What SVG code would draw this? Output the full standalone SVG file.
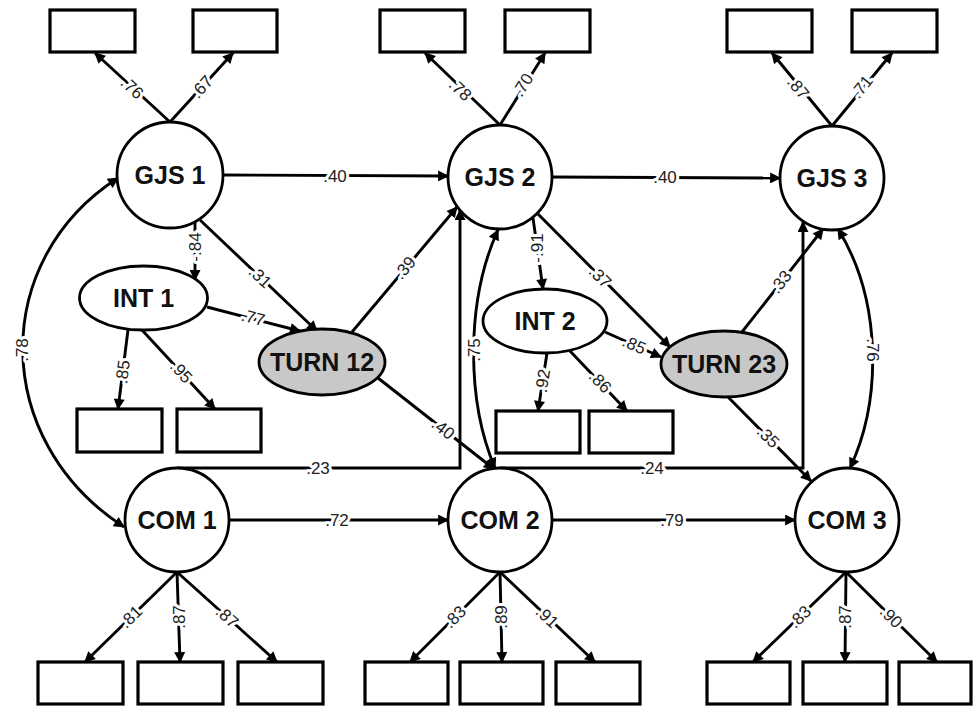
<svg xmlns="http://www.w3.org/2000/svg" width="974" height="706" viewBox="0 0 974 706">
<style>
.box{fill:#fff;stroke:#000;stroke-width:3.2}
.lat{fill:#fff;stroke:#000;stroke-width:2.8}
.turn{fill:#c8c8c8;stroke:#000;stroke-width:2.8}
.nl{font-family:"Liberation Sans",Arial,sans-serif;font-weight:bold;font-size:25px;fill:#111;text-anchor:middle;dominant-baseline:central}
.e{fill:none;stroke:#000;stroke-width:2.9;marker-end:url(#ah)}
.b{fill:none;stroke:#000;stroke-width:2.9;marker-end:url(#ah);marker-start:url(#ah)}
.lb{font-family:"Liberation Sans",Arial,sans-serif;font-size:17px;fill:#222;text-anchor:middle;dominant-baseline:central;stroke:#fff;stroke-width:6;stroke-linejoin:round;paint-order:stroke}
</style>
<defs>
<marker id="ah" viewBox="0 0 10 10" refX="9" refY="5" markerWidth="13" markerHeight="11" markerUnits="userSpaceOnUse" orient="auto-start-reverse">
<path d="M0,0 L10,5 L0,10 z" fill="#000"/>
</marker>
</defs>
<g id="connectors">
<path class="e" d="M170,122 L95,53"/>
<path class="e" d="M170,122 L233,53"/>
<path class="e" d="M500,125 L425,53"/>
<path class="e" d="M500,125 L545,53"/>
<path class="e" d="M832,126 L772,53"/>
<path class="e" d="M832,126 L892,53"/>
<path class="e" d="M223,175 L448,176"/>
<path class="e" d="M552,177 L780,178"/>
<path class="e" d="M229,520 L448,520"/>
<path class="e" d="M552,520 L795,520"/>
<path class="e" d="M177,572 L85,662"/>
<path class="e" d="M177,572 L180,662"/>
<path class="e" d="M177,572 L277,662"/>
<path class="e" d="M500,572 L410,662"/>
<path class="e" d="M500,572 L502,662"/>
<path class="e" d="M500,572 L595,662"/>
<path class="e" d="M846,572 L753,662"/>
<path class="e" d="M846,572 L845,662"/>
<path class="e" d="M846,572 L937,662"/>
<path class="e" d="M195,221 L195,280"/>
<path class="e" d="M128,330 L118,409"/>
<path class="e" d="M142,330 L215,409"/>
<path class="e" d="M200,220 L317,331"/>
<path class="e" d="M207,307 L300,331"/>
<path class="e" d="M352,332 L457,207"/>
<path class="e" d="M378,378 L494,469"/>
<path class="e" d="M533,218 L543,289"/>
<path class="e" d="M547,353 L538,411"/>
<path class="e" d="M570,351 L627,411"/>
<path class="e" d="M538,214 L670,347"/>
<path class="e" d="M605,332 L661,357"/>
<path class="e" d="M742,332 L823,229"/>
<path class="e" d="M728,397 L811,481"/>
<path class="e" d="M177,468 L460,468 L460,210"/>
<path class="e" d="M500,468 L803,468 L803,222"/>
<path class="b" d="M118,178 C-10,260 -10,440 124,527"/>
<path class="b" d="M498,230 C466,300 466,400 495,468"/>
<path class="b" d="M838,229 C882,300 882,400 850,468"/>
<text class="lb" transform="translate(132,88) rotate(43)">.76</text>
<text class="lb" transform="translate(202,87) rotate(-48)">.67</text>
<text class="lb" transform="translate(460,90) rotate(44)">.78</text>
<text class="lb" transform="translate(523,85) rotate(-58)">.70</text>
<text class="lb" transform="translate(798,88) rotate(51)">.87</text>
<text class="lb" transform="translate(862,87) rotate(-51)">.71</text>
<text class="lb" x="335" y="176">.40</text>
<text class="lb" x="665" y="177">.40</text>
<text class="lb" x="337" y="520">.72</text>
<text class="lb" x="672" y="520">.79</text>
<text class="lb" x="318" y="468">.23</text>
<text class="lb" x="652" y="468">.24</text>
<text class="lb" transform="translate(131,617) rotate(-44)">.81</text>
<text class="lb" transform="translate(179,617) rotate(-90)">.87</text>
<text class="lb" transform="translate(227,617) rotate(42)">.87</text>
<text class="lb" transform="translate(455,617) rotate(-45)">.83</text>
<text class="lb" transform="translate(501,617) rotate(-90)">.89</text>
<text class="lb" transform="translate(547,617) rotate(43)">.91</text>
<text class="lb" transform="translate(800,617) rotate(-44)">.83</text>
<text class="lb" transform="translate(845,617) rotate(-90)">.87</text>
<text class="lb" transform="translate(891,617) rotate(45)">.90</text>
<text class="lb" transform="translate(195,247) rotate(-90)">-.84</text>
<text class="lb" transform="translate(123,372) rotate(-83)">.85</text>
<text class="lb" transform="translate(181,372) rotate(47)">.95</text>
<text class="lb" transform="translate(260,277) rotate(43)">.31</text>
<text class="lb" transform="translate(253,318) rotate(14)">.77</text>
<text class="lb" transform="translate(405,268) rotate(-50)">.39</text>
<text class="lb" transform="translate(443,429) rotate(38)">.40</text>
<text class="lb" transform="translate(537,248) rotate(-90)">-.91</text>
<text class="lb" transform="translate(543,381) rotate(-81)">.92</text>
<text class="lb" transform="translate(600,382) rotate(46)">.86</text>
<text class="lb" transform="translate(600,277) rotate(45)">.37</text>
<text class="lb" transform="translate(634,345) rotate(24)">.85</text>
<text class="lb" transform="translate(781,282) rotate(-52)">.33</text>
<text class="lb" transform="translate(768,437) rotate(45)">.35</text>
<text class="lb" transform="translate(22,350) rotate(-90)">.78</text>
<text class="lb" transform="translate(474,350) rotate(-90)">.75</text>
<text class="lb" transform="translate(872,350) rotate(90)">.76</text>
</g>
<g id="ind-gjs1-a"><rect class="box" x="50" y="10" width="85" height="42"/></g>
<g id="ind-gjs1-b"><rect class="box" x="193" y="10" width="84" height="42"/></g>
<g id="ind-gjs2-a"><rect class="box" x="380" y="10" width="85" height="42"/></g>
<g id="ind-gjs2-b"><rect class="box" x="505" y="10" width="85" height="42"/></g>
<g id="ind-gjs3-a"><rect class="box" x="727" y="10" width="85" height="42"/></g>
<g id="ind-gjs3-b"><rect class="box" x="852" y="10" width="85" height="42"/></g>
<g id="ind-int1-a"><rect class="box" x="77" y="409" width="85" height="43"/></g>
<g id="ind-int1-b"><rect class="box" x="177" y="409" width="84" height="43"/></g>
<g id="ind-int2-a"><rect class="box" x="496" y="411" width="84" height="42"/></g>
<g id="ind-int2-b"><rect class="box" x="589" y="411" width="84" height="42"/></g>
<g id="ind-com1-a"><rect class="box" x="38" y="662" width="85" height="42"/></g>
<g id="ind-com1-b"><rect class="box" x="138" y="662" width="85" height="42"/></g>
<g id="ind-com1-c"><rect class="box" x="238" y="662" width="85" height="42"/></g>
<g id="ind-com2-a"><rect class="box" x="365" y="662" width="83" height="42"/></g>
<g id="ind-com2-b"><rect class="box" x="460" y="662" width="83" height="42"/></g>
<g id="ind-com2-c"><rect class="box" x="556" y="662" width="84" height="42"/></g>
<g id="ind-com3-a"><rect class="box" x="707" y="662" width="83" height="42"/></g>
<g id="ind-com3-b"><rect class="box" x="803" y="662" width="84" height="42"/></g>
<g id="ind-com3-c"><rect class="box" x="899" y="662" width="72" height="42"/></g>
<g id="gjs1"><circle class="lat" cx="170" cy="175" r="53"/><text class="nl" x="170" y="175">GJS 1</text></g>
<g id="gjs2"><circle class="lat" cx="500" cy="177" r="52"/><text class="nl" x="500" y="177">GJS 2</text></g>
<g id="gjs3"><circle class="lat" cx="832" cy="178" r="52"/><text class="nl" x="832" y="178">GJS 3</text></g>
<g id="com1"><circle class="lat" cx="177" cy="520" r="52"/><text class="nl" x="177" y="520">COM 1</text></g>
<g id="com2"><circle class="lat" cx="500" cy="520" r="52"/><text class="nl" x="500" y="520">COM 2</text></g>
<g id="com3"><circle class="lat" cx="847" cy="520" r="52"/><text class="nl" x="847" y="520">COM 3</text></g>
<g id="int1"><ellipse class="lat" cx="143.5" cy="298" rx="64" ry="32"/><text class="nl" x="143.5" y="298">INT 1</text></g>
<g id="int2"><ellipse class="lat" cx="545" cy="321" rx="62" ry="32"/><text class="nl" x="545" y="321">INT 2</text></g>
<g id="turn12"><ellipse class="turn" cx="322" cy="362" rx="63" ry="33"/><text class="nl" x="322" y="362">TURN 12</text></g>
<g id="turn23"><ellipse class="turn" cx="724" cy="364" rx="63" ry="33"/><text class="nl" x="724" y="364">TURN 23</text></g>
</svg>
